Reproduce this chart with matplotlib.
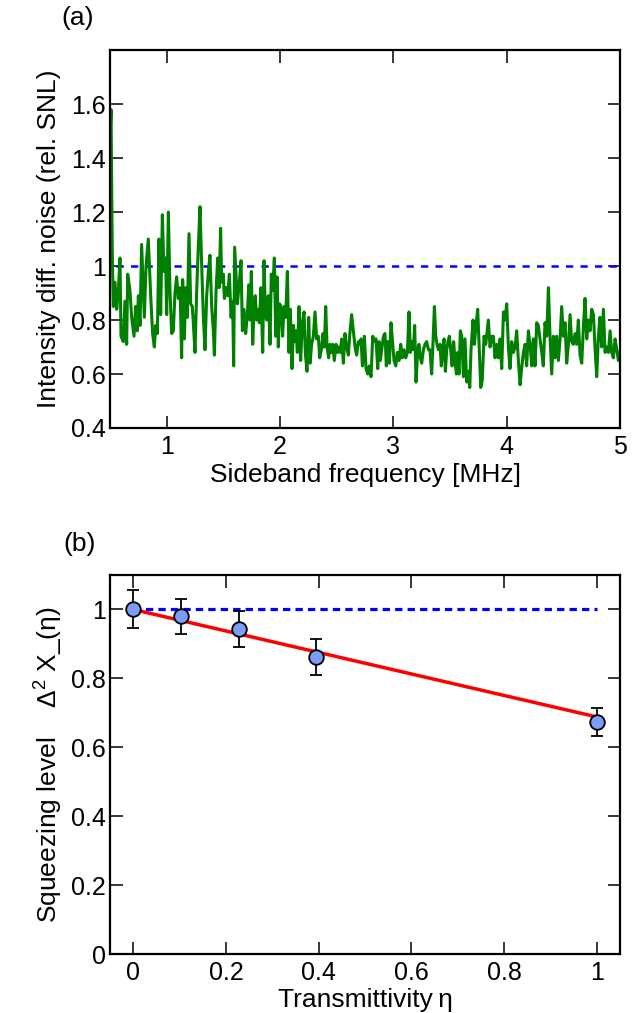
import numpy as np
import matplotlib
matplotlib.use("Agg")
import matplotlib.pyplot as plt

plt.rcParams['font.family'] = ['Liberation Sans', 'DejaVu Sans']
plt.rcParams['mathtext.fontset'] = 'custom'
plt.rcParams['mathtext.rm'] = 'Liberation Sans'
plt.rcParams['mathtext.it'] = 'Liberation Sans'

# (a) intensity difference noise spectrum
freq = [0.500, 0.509, 0.520, 0.529, 0.544, 0.559, 0.574, 0.588, 0.597, 0.618,
        0.632, 0.647, 0.656, 0.676, 0.691, 0.712, 0.726, 0.741, 0.750, 0.765,
        0.779, 0.794, 0.803, 0.818, 0.838, 0.859, 0.876, 0.891, 0.903, 0.918,
        0.932, 0.947, 0.962, 0.976, 0.991, 1.000, 1.015, 1.029, 1.044, 1.059,
        1.073, 1.088, 1.103, 1.118, 1.132, 1.141, 1.156, 1.168, 1.182, 1.197,
        1.212, 1.226, 1.235, 1.250, 1.265, 1.279, 1.294, 1.309, 1.324, 1.338,
        1.353, 1.368, 1.382, 1.397, 1.412, 1.421, 1.435, 1.450, 1.462, 1.476,
        1.485, 1.500, 1.509, 1.524, 1.538, 1.553, 1.568, 1.582, 1.591, 1.600,
        1.624, 1.641, 1.656, 1.668, 1.682, 1.697, 1.712, 1.724, 1.735, 1.747,
        1.759, 1.771, 1.782, 1.794, 1.806, 1.818, 1.832, 1.847, 1.859, 1.871,
        1.882, 1.897, 1.912, 1.923, 1.935, 1.950, 1.962, 1.974, 1.985, 1.997,
        2.012, 2.023, 2.035, 2.050, 2.065, 2.079, 2.091, 2.106, 2.118, 2.129,
        2.141, 2.153, 2.168, 2.182, 2.197, 2.212, 2.223, 2.238, 2.253, 2.265,
        2.279, 2.294, 2.309, 2.323, 2.338, 2.350, 2.365, 2.379, 2.391, 2.403,
        2.415, 2.429, 2.441, 2.453, 2.465, 2.479, 2.494, 2.509, 2.521, 2.532,
        2.544, 2.559, 2.573, 2.588, 2.603, 2.618, 2.632, 2.647, 2.662, 2.676,
        2.691, 2.706, 2.715, 2.727, 2.744, 2.759, 2.774, 2.788, 2.803, 2.818,
        2.832, 2.847, 2.862, 2.874, 2.885, 2.897, 2.912, 2.926, 2.938, 2.950,
        2.965, 2.979, 2.991, 3.006, 3.021, 3.035, 3.050, 3.065, 3.079, 3.094,
        3.109, 3.124, 3.138, 3.150, 3.162, 3.176, 3.188, 3.200, 3.215, 3.226,
        3.238, 3.250, 3.265, 3.279, 3.294, 3.309, 3.323, 3.338, 3.350, 3.362,
        3.374, 3.385, 3.397, 3.412, 3.423, 3.435, 3.447, 3.459, 3.471, 3.482,
        3.494, 3.506, 3.518, 3.532, 3.544, 3.556, 3.568, 3.579, 3.591, 3.603,
        3.618, 3.632, 3.647, 3.662, 3.674, 3.685, 3.703, 3.715, 3.729, 3.744,
        3.756, 3.771, 3.785, 3.800, 3.815, 3.838, 3.853, 3.868, 3.882, 3.897,
        3.912, 3.926, 3.941, 3.956, 3.971, 3.985, 4.000, 4.015, 4.029, 4.044,
        4.059, 4.074, 4.088, 4.103, 4.118, 4.132, 4.147, 4.162, 4.176, 4.191,
        4.206, 4.221, 4.235, 4.250, 4.265, 4.279, 4.294, 4.309, 4.323, 4.338,
        4.353, 4.368, 4.382, 4.397, 4.412, 4.426, 4.441, 4.456, 4.471, 4.485,
        4.500, 4.515, 4.529, 4.544, 4.559, 4.573, 4.588, 4.603, 4.618, 4.632,
        4.647, 4.662, 4.676, 4.691, 4.706, 4.721, 4.735, 4.750, 4.765, 4.779,
        4.794, 4.809, 4.823, 4.838, 4.853, 4.868, 4.882, 4.897, 4.912, 4.926,
        4.941, 4.956, 4.971, 4.985, 5.000]
noise = [1.46, 1.58, 1.05, 0.85, 0.94, 0.84, 0.91, 1.03, 0.74, 0.72,
         0.87, 0.71, 0.97, 0.91, 0.81, 0.74, 0.85, 0.76, 0.89, 0.78,
         1.08, 0.91, 0.81, 1.00, 1.10, 0.89, 0.75, 0.70, 0.78, 0.75,
         1.10, 0.82, 1.19, 0.98, 1.03, 0.82, 1.20, 0.91, 0.75, 0.76,
         0.90, 0.96, 0.88, 0.92, 0.66, 0.95, 0.73, 0.92, 0.81, 1.12,
         0.86, 0.85, 0.79, 0.68, 0.91, 1.07, 1.22, 1.00, 0.81, 0.69,
         0.89, 0.98, 1.04, 0.85, 0.76, 0.67, 0.90, 1.03, 0.92, 1.14,
         0.94, 0.97, 0.88, 0.92, 0.89, 0.97, 0.81, 0.87, 0.63, 1.07,
         0.86, 0.94, 1.02, 0.76, 0.84, 0.75, 0.82, 0.93, 0.80, 0.98,
         0.71, 0.84, 0.89, 0.80, 0.84, 0.79, 0.92, 0.68, 1.02, 0.82,
         0.80, 0.89, 0.71, 0.97, 0.91, 1.03, 0.74, 0.96, 0.70, 0.86,
         0.84, 0.74, 0.85, 0.81, 0.98, 0.68, 0.84, 0.62, 0.78, 0.72,
         0.76, 0.68, 0.85, 0.65, 0.79, 0.83, 0.68, 0.61, 0.81, 0.64,
         0.71, 0.74, 0.83, 0.73, 0.74, 0.66, 0.69, 0.75, 0.70, 0.85,
         0.70, 0.66, 0.71, 0.68, 0.71, 0.65, 0.71, 0.68, 0.70, 0.68,
         0.73, 0.64, 0.75, 0.70, 0.67, 0.76, 0.82, 0.76, 0.70, 0.67,
         0.72, 0.71, 0.73, 0.63, 0.74, 0.62, 0.60, 0.63, 0.59, 0.74,
         0.72, 0.73, 0.62, 0.72, 0.65, 0.69, 0.74, 0.75, 0.63, 0.72,
         0.64, 0.79, 0.73, 0.65, 0.63, 0.68, 0.65, 0.71, 0.66, 0.69,
         0.66, 0.68, 0.83, 0.68, 0.72, 0.69, 0.78, 0.57, 0.69, 0.71,
         0.66, 0.64, 0.69, 0.71, 0.72, 0.69, 0.69, 0.60, 0.72, 0.85,
         0.74, 0.71, 0.69, 0.71, 0.63, 0.69, 0.73, 0.61, 0.69, 0.72,
         0.74, 0.69, 0.63, 0.72, 0.65, 0.60, 0.68, 0.60, 0.76, 0.74,
         0.59, 0.73, 0.57, 0.61, 0.55, 0.69, 0.80, 0.71, 0.78, 0.84,
         0.71, 0.55, 0.58, 0.74, 0.71, 0.80, 0.70, 0.74, 0.74, 0.66,
         0.71, 0.66, 0.73, 0.62, 0.83, 0.80, 0.86, 0.70, 0.62, 0.72,
         0.68, 0.70, 0.76, 0.65, 0.56, 0.62, 0.68, 0.71, 0.63, 0.76,
         0.71, 0.63, 0.73, 0.63, 0.79, 0.78, 0.73, 0.68, 0.63, 0.79,
         0.74, 0.92, 0.74, 0.60, 0.74, 0.66, 0.74, 0.65, 0.73, 0.85,
         0.74, 0.79, 0.64, 0.71, 0.82, 0.72, 0.71, 0.75, 0.71, 0.80,
         0.67, 0.64, 0.77, 0.88, 0.73, 0.80, 0.76, 0.84, 0.82, 0.70,
         0.59, 0.74, 0.81, 0.70, 0.84, 0.68, 0.70, 0.68, 0.76, 0.68,
         0.66, 0.73, 0.69, 0.65, 0.68]
snl_freq = [0.55, 5.0]
snl_level = [1.0, 1.0]

# (b) squeezing vs transmittivity
eta = [0.0, 0.103, 0.228, 0.394, 1.0]
squeeze = [1.0, 0.98, 0.944, 0.862, 0.673]
squeeze_err = [0.055, 0.05, 0.052, 0.053, 0.04]
fit_eta = [0.0, 1.0]
fit_vals = [1.0, 0.688]
ref_eta = [0.0, 1.0]
ref_vals = [1.0, 1.0]

fs = 19
tfs = 18
fig = plt.figure(figsize=(6.34, 10.13), dpi=100)
ax1 = fig.add_axes([0.1735, 0.5775, 0.8045, 0.373])
ax2 = fig.add_axes([0.1735, 0.0582, 0.8045, 0.3742])

for ax in (ax1, ax2):
    for s in ax.spines.values():
        s.set_linewidth(1.6)
    ax.tick_params(direction='in', top=True, right=True, length=9, width=1.1,
                   labelsize=tfs)
    ax.tick_params(axis='y', pad=3)
    ax.tick_params(axis='x', pad=5)

ax1.plot(snl_freq, snl_level, color='#0000ff', lw=1.8, dashes=(2.9, 2.9))
ax1.plot(freq, noise, color='#008000', lw=2.2)
ax1.set_xlim(0.5, 5)
ax1.set_ylim(0.4, 1.8)
ax1.set_xticks([1, 2, 3, 4, 5])
ax1.set_xticklabels(['1', '2', '3', '4', '5'])
ax1.set_yticks([0.4, 0.6, 0.8, 1.0, 1.2, 1.4, 1.6])
ax1.set_yticklabels(['0.4', '0.6', '0.8', '1', '1.2', '1.4', '1.6'])
ax1.set_xlabel('Sideband frequency [MHz]', fontsize=fs, labelpad=3)
ax1.set_ylabel('Intensity diff. noise (rel. SNL)', fontsize=fs, labelpad=7)

ax2.plot(ref_eta, ref_vals, color='#0000ff', lw=2.3, dashes=(2.3, 1.6))
ax2.plot(fit_eta, fit_vals, color='#ff0000', lw=2.5)
ax2.errorbar(eta, squeeze, yerr=squeeze_err, fmt='o', ms=10.5,
             mfc='#7b9cf7', mec='black', mew=1.3, ecolor='black',
             elinewidth=1.3, capsize=4, capthick=1.3)
ax2.set_xlim(-0.05, 1.05)
ax2.set_ylim(0, 1.1)
ax2.set_xticks([0, 0.2, 0.4, 0.6, 0.8, 1.0])
ax2.set_xticklabels(['0', '0.2', '0.4', '0.6', '0.8', '1'])
ax2.set_yticks([0, 0.2, 0.4, 0.6, 0.8, 1.0])
ax2.set_yticklabels(['0', '0.2', '0.4', '0.6', '0.8', '1'])
ax2.set_xlabel('Transmittivity\u2009η', fontsize=fs, labelpad=2)
ax2.set_ylabel('Squeezing level    Δ$^2$ X_(η)', fontsize=fs, labelpad=4)

fig.text(0.123, 0.982, '(a)', fontsize=fs, ha='center', va='center')
fig.text(0.126, 0.463, '(b)', fontsize=fs, ha='center', va='center')

fig.savefig('out.png', dpi=100)
